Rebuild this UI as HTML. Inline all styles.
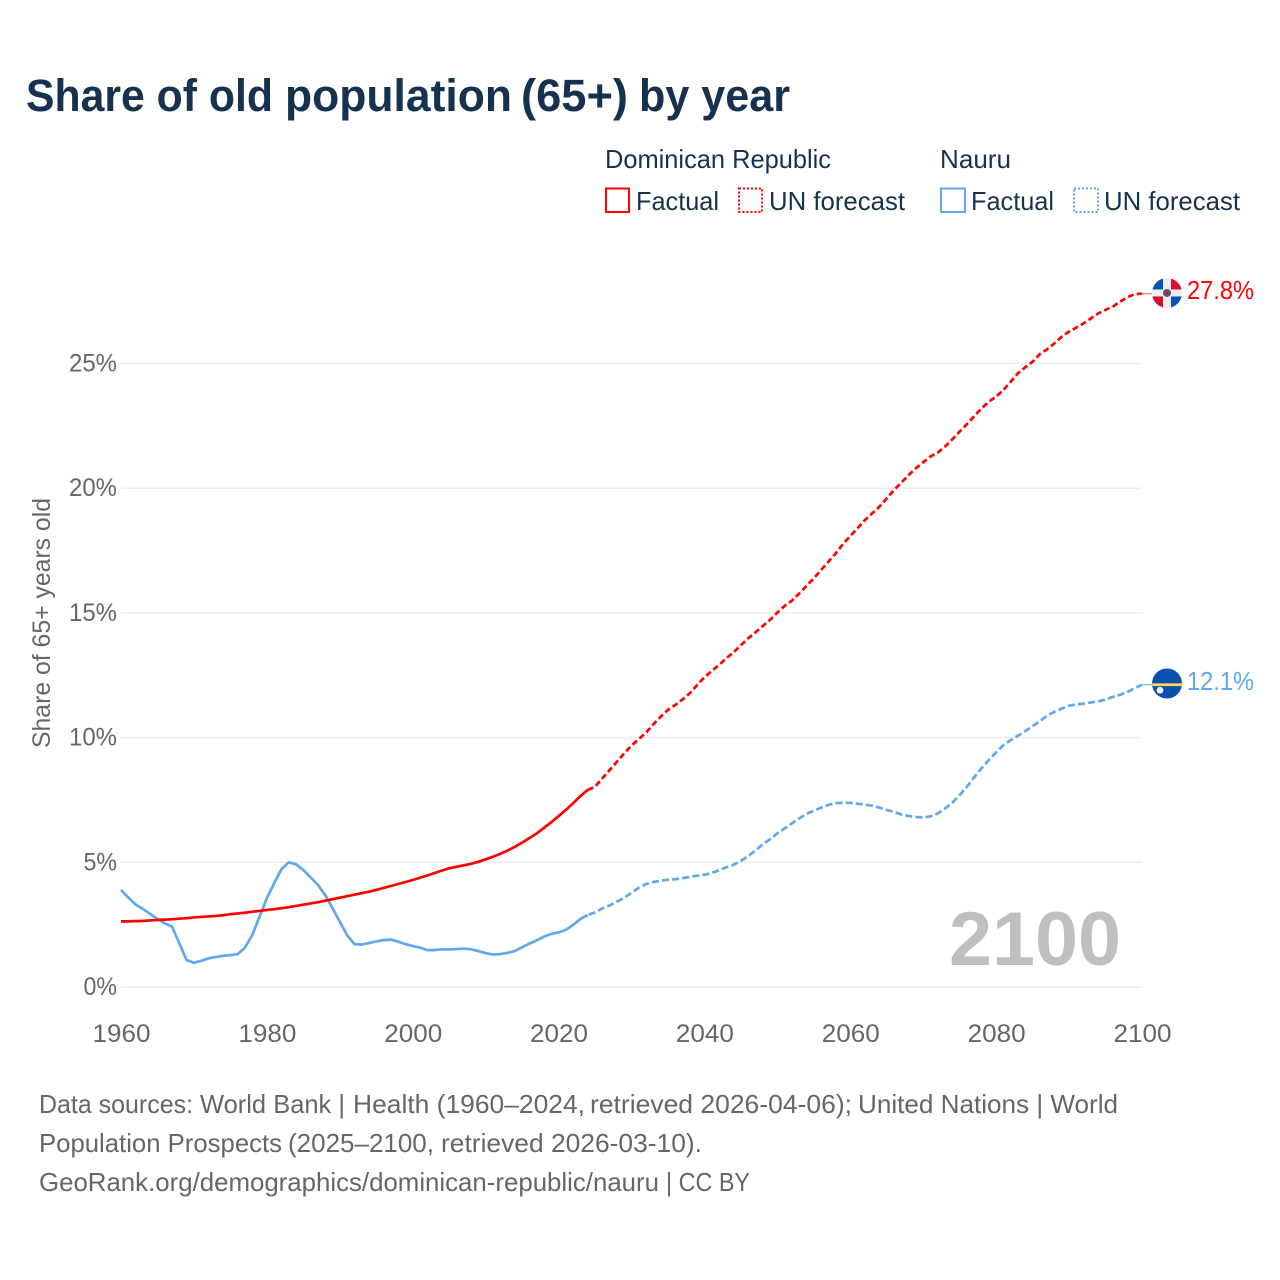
<!DOCTYPE html>
<html lang="en">
<head>
<meta charset="utf-8">
<title>Share of old population (65+) by year</title>
<style>
  html, body { margin: 0; padding: 0; background: #ffffff; }
  svg { display: block; }
  text { font-family: "Liberation Sans", sans-serif; }
</style>
</head>
<body>
<svg id="chart" xmlns="http://www.w3.org/2000/svg" width="1280" height="1280" viewBox="0 0 1280 1280">
  <rect x="0" y="0" width="1280" height="1280" fill="#ffffff"/>
  <g font-size="45" font-weight="700" fill="#17324f">
    <text x="26" y="111" textLength="247" lengthAdjust="spacingAndGlyphs">Share of old</text>
    <text x="285" y="111" textLength="227" lengthAdjust="spacingAndGlyphs">population</text>
    <text x="521" y="111" textLength="107" lengthAdjust="spacingAndGlyphs">(65+)</text>
    <text x="639" y="111" textLength="151" lengthAdjust="spacingAndGlyphs">by year</text>
  </g>

  <g font-size="26" fill="#17324f">
    <text x="605" y="168" textLength="226" lengthAdjust="spacingAndGlyphs">Dominican Republic</text>
    <text x="940" y="168" textLength="71" lengthAdjust="spacingAndGlyphs">Nauru</text>
    <rect x="606" y="188.5" width="23" height="23.5" fill="none" stroke="#ff0000" stroke-width="2"/>
    <text x="636" y="210" textLength="83" lengthAdjust="spacingAndGlyphs">Factual</text>
    <rect x="739" y="188.5" width="23" height="23.5" fill="none" stroke="#ff0000" stroke-width="2" stroke-dasharray="2,2"/>
    <text x="769" y="210" textLength="136" lengthAdjust="spacingAndGlyphs">UN forecast</text>
    <rect x="941" y="188.5" width="24" height="23.5" fill="none" stroke="#5fa8ec" stroke-width="2"/>
    <text x="971" y="210" textLength="83" lengthAdjust="spacingAndGlyphs">Factual</text>
    <rect x="1074" y="188.5" width="24" height="23.5" fill="none" stroke="#5fa8ec" stroke-width="2" stroke-dasharray="2,2"/>
    <text x="1104" y="210" textLength="136" lengthAdjust="spacingAndGlyphs">UN forecast</text>
  </g>

  <g id="grid"></g>
  <g id="yticks"></g>
  <g id="xticks"></g>

  <text transform="translate(50,748) rotate(-90)" x="0" y="0" font-size="25" fill="#666666" textLength="250" lengthAdjust="spacingAndGlyphs">Share of 65+ years old</text>
  <text x="949" y="965" font-size="76" font-weight="700" fill="#bfbfbf" textLength="172" lengthAdjust="spacingAndGlyphs">2100</text>

  <g id="series"></g>

  <g id="flag-dr"></g>
  <g id="flag-nr"></g>
  <g id="endlabels"></g>

  <g font-size="26" fill="#666666">
    <text x="39" y="1113" textLength="154" lengthAdjust="spacingAndGlyphs">Data sources:</text>
    <text x="200" y="1113" textLength="145" lengthAdjust="spacingAndGlyphs">World Bank |</text>
    <text x="353" y="1113" textLength="232" lengthAdjust="spacingAndGlyphs">Health (1960–2024,</text>
    <text x="590" y="1113" textLength="262" lengthAdjust="spacingAndGlyphs">retrieved 2026-04-06);</text>
    <text x="858" y="1113" textLength="260" lengthAdjust="spacingAndGlyphs">United Nations | World</text>
    <text x="39" y="1152" textLength="243" lengthAdjust="spacingAndGlyphs">Population Prospects</text>
    <text x="288" y="1152" textLength="146" lengthAdjust="spacingAndGlyphs">(2025–2100,</text>
    <text x="441" y="1152" textLength="261" lengthAdjust="spacingAndGlyphs">retrieved 2026-03-10).</text>
    <text x="39" y="1191" textLength="620" lengthAdjust="spacingAndGlyphs">GeoRank.org/demographics/dominican-republic/nauru</text>
    <text x="666" y="1191" textLength="84" lengthAdjust="spacingAndGlyphs">| CC BY</text>
  </g>
</svg>
<script>
const yTickValues = [0, 5, 10, 15, 20, 25];
const xTickYears = [1960, 1980, 2000, 2020, 2040, 2060, 2080, 2100];
const factualStartYear = 1960;
const forecastStartYear = 2024;
const endLabelDominican = "27.8%";
const endLabelNauru = "12.1%";

const dominicanFactual = [
  2.63,2.63,2.64,2.65,2.67,2.69,2.70,2.72,2.74,2.76,
  2.79,2.81,2.83,2.85,2.88,2.92,2.95,2.98,3.02,3.05,
  3.09,3.12,3.16,3.20,3.25,3.30,3.35,3.40,3.46,3.52,
  3.58,3.64,3.70,3.76,3.82,3.89,3.97,4.05,4.13,4.21,
  4.29,4.38,4.47,4.57,4.67,4.76,4.82,4.88,4.94,5.02,
  5.12,5.22,5.34,5.47,5.62,5.79,5.97,6.16,6.38,6.61,
  6.85,7.10,7.37,7.66,7.90
];
const dominicanForecast = [
  7.90,8.03,8.37,8.70,9.03,9.37,9.68,9.94,10.20,10.53,10.84,
  11.11,11.31,11.53,11.78,12.11,12.42,12.67,12.91,13.18,13.42,
  13.71,13.98,14.22,14.47,14.72,15.01,15.28,15.49,15.78,16.08,
  16.39,16.72,17.05,17.39,17.76,18.08,18.40,18.72,18.99,19.26,
  19.59,19.93,20.22,20.53,20.80,21.04,21.27,21.43,21.67,21.96,
  22.27,22.57,22.89,23.20,23.47,23.67,23.94,24.27,24.61,24.85,
  25.07,25.38,25.57,25.81,26.08,26.28,26.44,26.61,26.81,27.01,
  27.15,27.28,27.48,27.66,27.78,27.80
];
const nauruFactual = [
  3.89,3.59,3.31,3.13,2.93,2.73,2.55,2.42,1.75,1.08,
  0.97,1.05,1.15,1.20,1.25,1.28,1.32,1.58,2.08,2.82,
  3.56,4.16,4.72,5.00,4.92,4.69,4.40,4.09,3.69,3.16,
  2.62,2.08,1.72,1.70,1.76,1.83,1.88,1.90,1.82,1.72,
  1.64,1.58,1.48,1.48,1.51,1.51,1.52,1.54,1.51,1.44,
  1.36,1.30,1.32,1.37,1.44,1.59,1.74,1.87,2.02,2.13,
  2.19,2.29,2.49,2.73,2.89
];
const nauruForecast = [
  2.89,2.99,3.15,3.27,3.42,3.58,3.78,3.98,4.13,4.21,4.26,
  4.30,4.32,4.36,4.42,4.46,4.50,4.57,4.68,4.80,4.90,
  5.06,5.25,5.47,5.73,5.92,6.16,6.36,6.56,6.76,6.94,
  7.07,7.19,7.30,7.37,7.39,7.38,7.35,7.31,7.27,7.19,
  7.10,7.02,6.92,6.86,6.82,6.80,6.84,6.96,7.16,7.39,
  7.70,8.03,8.41,8.77,9.10,9.41,9.70,9.90,10.08,10.26,
  10.46,10.66,10.88,11.04,11.16,11.28,11.33,11.36,11.41,11.45,
  11.53,11.63,11.72,11.83,11.98,12.12
];

const NS = "http://www.w3.org/2000/svg";
const RED = "#ff0000";
const BLUE = "#5fa8ec";
const plotLeft = 121, plotRight = 1142, plotBase = 987, pxPerPct = 24.94;
function xScale(year) { return plotLeft + (year - 1960) * (plotRight - plotLeft) / 140; }
function yScale(v) { return plotBase - v * pxPerPct; }
function make(tag, props, parent) {
  const el = document.createElementNS(NS, tag);
  for (const k in props) el.setAttribute(k, props[k]);
  parent.appendChild(el);
  return el;
}
function linePath(values, startYear) {
  return values.map(function (v, i) {
    return (i ? "L" : "M") + xScale(startYear + i).toFixed(2) + " " + yScale(v).toFixed(2);
  }).join(" ");
}

const grid = document.getElementById("grid");
const yticks = document.getElementById("yticks");
const xticks = document.getElementById("xticks");
const series = document.getElementById("series");
const endlabels = document.getElementById("endlabels");

yTickValues.forEach(function (v) {
  const g = make("line", { x1: plotLeft, x2: plotRight, y1: yScale(v), y2: yScale(v), stroke: "#e6e6e6", "stroke-width": 1 }, grid);
  
  
  const label = v + "%";
  const t = make("text", { x: 117, y: yScale(v) + 8, "text-anchor": "end", "font-size": 25, fill: "#666666", textLength: (label.length - 1) * 14.5 + 19, lengthAdjust: "spacingAndGlyphs" }, yticks);
  t.textContent = label;
  
  
});

xTickYears.forEach(function (yr) {
  const t = make("text", { x: xScale(yr) - 28.5, y: 1042, "font-size": 25, fill: "#666666", textLength: 58, lengthAdjust: "spacingAndGlyphs" }, xticks);
  t.textContent = String(yr);
  
  
});

const nrFactualLine = make("path", { d: linePath(nauruFactual, factualStartYear), fill: "none", stroke: BLUE, "stroke-width": 2.7, "stroke-linejoin": "round" }, series);



const nrForecastLine = make("path", { d: linePath(nauruForecast, forecastStartYear), fill: "none", stroke: BLUE, "stroke-width": 2.7, "stroke-dasharray": "7,3.2", "stroke-dashoffset": "-1" }, series);



const drFactualLine = make("path", { d: linePath(dominicanFactual, factualStartYear), fill: "none", stroke: RED, "stroke-width": 2.7, "stroke-linejoin": "round" }, series);



const drForecastLine = make("path", { d: linePath(dominicanForecast, forecastStartYear), fill: "none", stroke: RED, "stroke-width": 2.7, "stroke-dasharray": "6,3.2" }, series);



const lastDr = dominicanForecast[dominicanForecast.length - 1];
const lastNr = nauruForecast[nauruForecast.length - 1];
const drY = yScale(lastDr);
const nrY = yScale(lastNr);

const drLeader = make("line", { x1: plotRight, x2: plotRight + 10, y1: drY, y2: drY, stroke: RED, "stroke-width": 1, opacity: 0.6 }, series);


const nrLeader = make("line", { x1: plotRight, x2: plotRight + 10, y1: nrY, y2: nrY, stroke: BLUE, "stroke-width": 1 }, series);



/* flags follow the series end points */
const flagCx = 1167, flagR = 15;
const drCy = drY - 0.7;
const nrCy = nrY - 1.2;
const fd = document.getElementById("flag-dr");
const clipD = make("clipPath", { id: "clip-dr" }, fd);
make("circle", { cx: flagCx, cy: drCy, r: flagR }, clipD);
const gd = make("g", { "clip-path": "url(#clip-dr)" }, fd);
make("rect", { x: flagCx - flagR, y: drCy - flagR, width: 30, height: 30, fill: "#eeeeee" }, gd);
make("rect", { x: flagCx - flagR, y: drCy - flagR, width: 11, height: 11.5, fill: "#0b50b4" }, gd);
make("rect", { x: flagCx + 4, y: drCy - flagR, width: 11, height: 11.5, fill: "#d80f33" }, gd);
make("rect", { x: flagCx - flagR, y: drCy + 3.5, width: 11, height: 11.5, fill: "#d80f33" }, gd);
make("rect", { x: flagCx + 4, y: drCy + 3.5, width: 11, height: 11.5, fill: "#0b50b4" }, gd);
make("circle", { cx: flagCx, cy: drCy, r: 4, fill: "#3f5f86" }, gd);
make("circle", { cx: flagCx, cy: drCy, r: 2.2, fill: "#c8203a" }, gd);

const fn = document.getElementById("flag-nr");
const clipN = make("clipPath", { id: "clip-nr" }, fn);
make("circle", { cx: flagCx, cy: nrCy, r: flagR }, clipN);
const gn = make("g", { "clip-path": "url(#clip-nr)" }, fn);
make("rect", { x: flagCx - flagR, y: nrCy - flagR, width: 30, height: 30, fill: "#0b4fb0" }, gn);
make("rect", { x: flagCx - flagR, y: nrY - 1.4, width: 30, height: 2.8, fill: "#ffd94a" }, gn);
make("circle", { cx: flagCx - 7, cy: nrY + 5.5, r: 3.4, fill: "#eef2f6" }, gn);

const drEnd = make("text", { x: 1187, y: drY + 5.5, "font-size": 26, fill: RED, textLength: 67, lengthAdjust: "spacingAndGlyphs" }, endlabels);
drEnd.textContent = endLabelDominican;



const nrEnd = make("text", { x: 1187, y: nrY + 5.5, "font-size": 26, fill: BLUE, textLength: 67, lengthAdjust: "spacingAndGlyphs" }, endlabels);
nrEnd.textContent = endLabelNauru;


</script>
</body>
</html>
